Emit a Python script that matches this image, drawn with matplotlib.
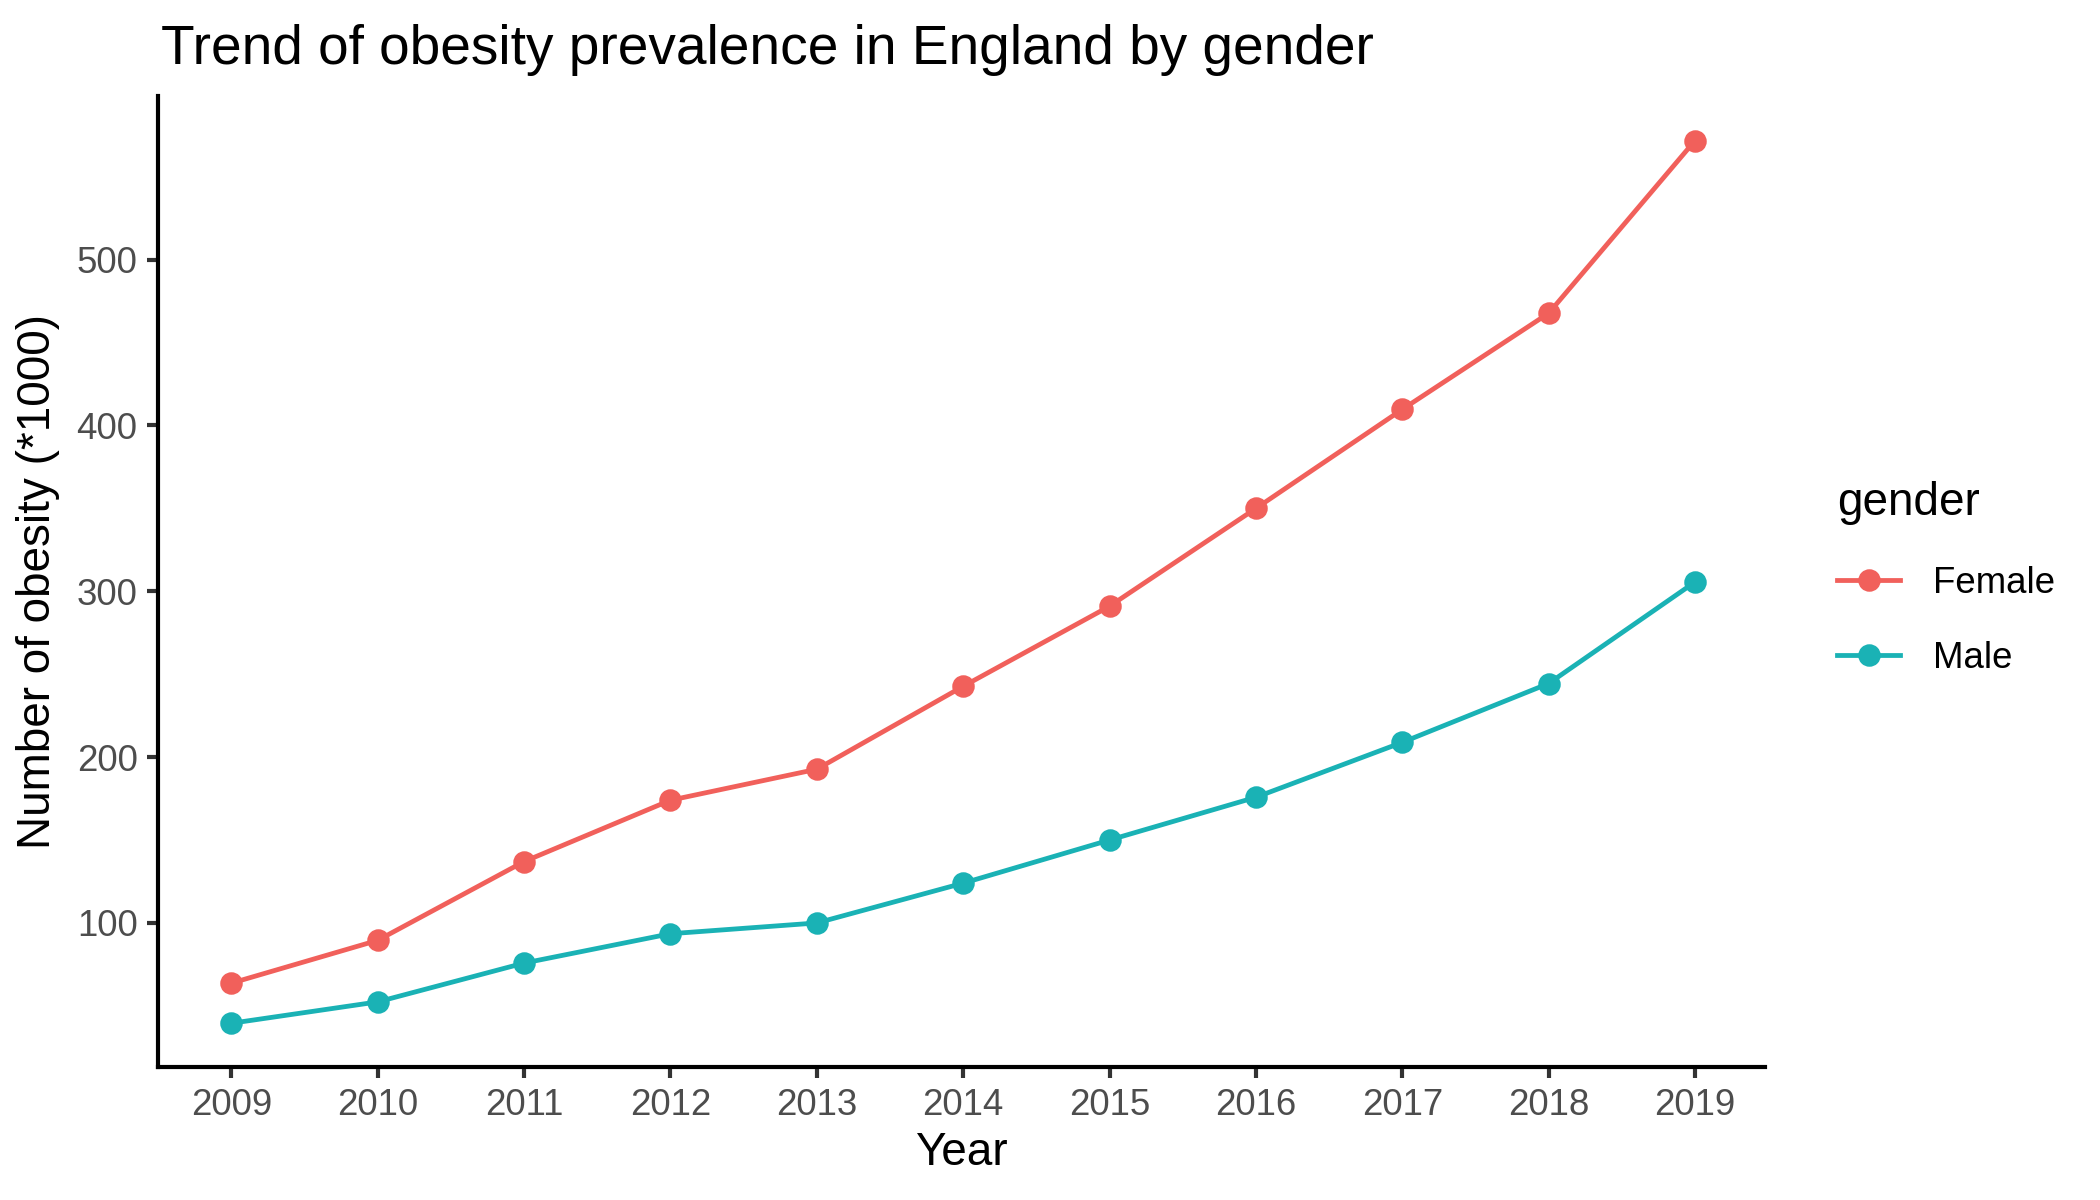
import numpy as np
import matplotlib
matplotlib.use("Agg")
import matplotlib.pyplot as plt
from matplotlib.lines import Line2D

plt.rcParams['font.family'] = ['Liberation Sans', 'DejaVu Sans']

years = [2009, 2010, 2011, 2012, 2013, 2014, 2015, 2016, 2017, 2018, 2019]
female = [63.7, 89.5, 137, 174, 192.7, 242.7, 291, 350, 409.7, 467.7, 571.8]
male = [39.5, 52.4, 75.8, 93.5, 100, 124, 150, 175.8, 208.9, 244.4, 305.6]
genders = ['Female', 'Male']
colors = ['#F1605B', '#1AB2B5']

fig = plt.figure(figsize=(7, 4), dpi=300)
ax = fig.add_axes([0.0753, 0.1105, 0.7653, 0.8091])

for vals, c in zip([female, male], colors):
    ax.plot(years, vals, color=c, lw=1.15, marker='o', ms=4.4, mec=c, mfc=c)

# ggplot-like expansion
allv = np.array(female + male)
rng = allv.max() - allv.min()
ax.set_ylim(allv.min() - 0.05 * rng, allv.max() + 0.05 * rng)
ax.set_xlim(2008.5, 2019.48)
ax.set_xticks(years)
ax.set_yticks([100, 200, 300, 400, 500])

for s in ['top', 'right']:
    ax.spines[s].set_visible(False)
for s in ['left', 'bottom']:
    ax.spines[s].set_linewidth(1.0)
ax.tick_params(axis='both', length=2.75, width=1.0, color='#333333',
               labelsize=8.8, labelcolor='#4D4D4D', pad=2.2)

ax.set_xlabel('Year', fontsize=11, labelpad=2)
ax.set_ylabel('Number of obesity (*1000)', fontsize=11, labelpad=4)
fig.text(0.0765, 0.958, 'Trend of obesity prevalence in England by gender',
         fontsize=13.2, ha='left', va='center')

handles = [Line2D([], [], color=c, lw=1.15, marker='o', ms=4.4) for c in colors]
leg = fig.legend(handles, genders, loc='upper left', bbox_to_anchor=(0.868, 0.611),
                 frameon=False, title='gender', fontsize=8.8, title_fontsize=11,
                 handlelength=1.7, handletextpad=0.9, labelspacing=1.1,
                 borderaxespad=0, alignment='left')

fig.savefig('out.png', dpi=300)
